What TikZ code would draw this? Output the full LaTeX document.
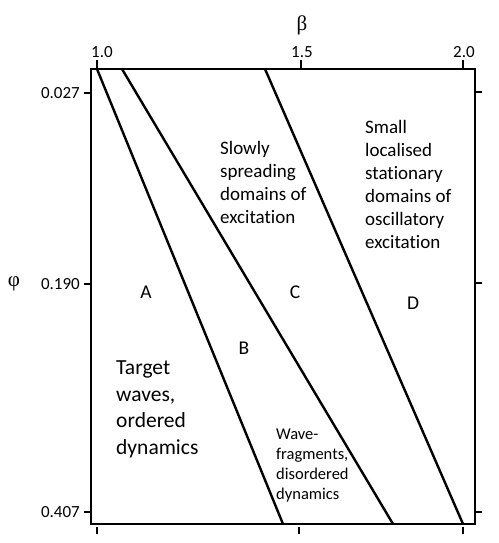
\documentclass[tikz,border=0pt]{standalone}
\usepackage{fontspec}
\setmainfont[Ligatures=NoCommon]{Carlito}
\newfontfamily\greekfont{Liberation Serif}
\usetikzlibrary{positioning}

\begin{document}
\begin{tikzpicture}
[x=1pt, y=-1pt,
 frame/.style={line width=2.6pt, line cap=rect},
 boundary/.style={line width=2.4pt},
 tickmark/.style={line width=2pt},
 ticklabel/.style={font=\fontsize{17}{20}\selectfont, inner sep=0pt},
 axislabel/.style={font=\greekfont\fontsize{21}{24}\selectfont, inner sep=0pt},
 letter/.style={font=\fontsize{19.5}{22}\selectfont, inner sep=0pt},
 regiontext/.style={align=left, inner sep=0pt, anchor=base west},
]

\useasboundingbox (0,0) rectangle (498,543);

\coordinate (tl) at (91,69);
\coordinate (tr) at (475,69);
\coordinate (br) at (475,524);
\coordinate (bl) at (91,524);

\coordinate (ab top) at (97,69);
\coordinate (ab bot) at (283,524);
\coordinate (bc top) at (122,69);
\coordinate (bc bot) at (393,524);
\coordinate (cd top) at (265,69);
\coordinate (cd bot) at (463,524);

\draw[frame] (tl) -- (tr) -- (br) -- (bl) -- cycle;

\draw[boundary]
(ab top) edge (ab bot)
(bc top) edge (bc bot)
(cd top) edge (cd bot);

% top axis, beta
\draw[tickmark] (97,69) -- (97,60);
\draw[tickmark] (301,69) -- (301,60);
\draw[tickmark] (463,69) -- (463,60);
\node[ticklabel, anchor=base] (b10) at (102,58) {1.0};
\node[ticklabel, anchor=base] (b15) at (302,58) {1.5};
\node[ticklabel, anchor=base] (b20) at (464,58) {2.0};
\node[axislabel] (beta) at (302,25) {β};

% bottom axis
\draw[tickmark] (97,527) -- (97,534);
\draw[tickmark] (299,527) -- (299,534);
\draw[tickmark] (463,527) -- (463,534);

% left axis, phi
\draw[tickmark] (91,93) -- (84,93);
\draw[tickmark] (91,284) -- (84,284);
\draw[tickmark] (91,512) -- (84,512);
\node[ticklabel, anchor=east] (p1) at (80,93) {0.027};
\node[ticklabel, anchor=east] (p2) at (80,284) {0.190};
\node[ticklabel, anchor=east] (p3) at (80,512) {0.407};
\node[axislabel] (phi) at (14,284) {φ};

% right axis
\draw[tickmark] (475,92) -- (482,92);
\draw[tickmark] (475,283) -- (482,283);
\draw[tickmark] (475,512) -- (482,512);

% regions
\node[letter] (A) at (146,292) {A};
\node[letter] (B) at (244,348) {B};
\node[letter] (C) at (295,292) {C};
\node[letter] (D) at (413,303) {D};

\node[regiontext, font=\fontsize{19}{23}\selectfont] (slow) at (220,223)
  {Slowly\\spreading\\domains of\\excitation};
\node[regiontext, font=\fontsize{19}{23}\selectfont] (small) at (365,248)
  {Small\\localised\\stationary\\domains of\\oscillatory\\excitation};
\node[regiontext, font=\fontsize{21.5}{26.5}\selectfont] (target) at (116,454)
  {Target\\waves,\\ordered\\dynamics};
\node[regiontext, font=\fontsize{16.5}{20}\selectfont] (frag) at (276,499)
  {Wave-\\fragments,\\disordered\\dynamics};
\end{tikzpicture}
\end{document}
